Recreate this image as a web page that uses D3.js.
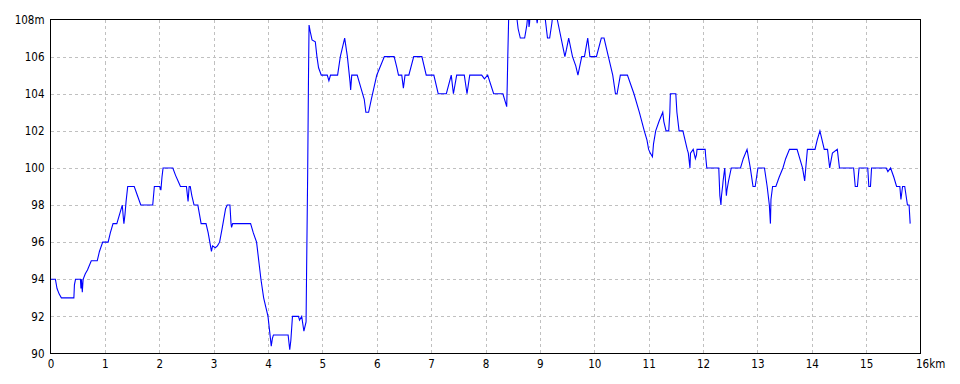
<!DOCTYPE html>
<html>
<head>
<meta charset="utf-8">
<script src="https://cdn.jsdelivr.net/npm/d3@7/dist/d3.min.js"></script>
<style>
html,body{margin:0;padding:0;background:#fff;}
svg{display:block;}
text{font-family:"DejaVu Sans","Liberation Sans",sans-serif;font-stretch:condensed;font-size:11.5px;fill:#000;}
</style>
</head>
<body>
<svg id="chart" width="960" height="384"></svg>
<script>
// distance along route (km)
const distKm = [
0.00,0.09,0.12,0.16,0.20,0.43,0.44,0.46,0.55,0.56,0.57,0.585,0.60,0.64,0.68,0.75,0.86,0.90,0.96,1.06,
1.10,1.15,1.22,1.27,1.32,1.34,1.35,1.37,1.39,1.42,1.54,1.60,1.66,1.88,1.91,2.01,2.03,2.05,2.07,2.25,
2.30,2.36,2.39,2.50,2.53,2.55,2.57,2.60,2.64,2.71,2.74,2.77,2.86,2.90,2.96,2.98,3.03,3.07,3.11,3.16,
3.22,3.25,3.30,3.32,3.33,3.35,3.68,3.73,3.79,3.83,3.87,3.92,3.96,4.00,4.06,4.08,4.10,4.37,4.40,4.42,
4.45,4.56,4.58,4.62,4.66,4.70,4.71,4.73,4.745,4.755,4.78,4.81,4.87,4.90,4.93,4.98,5.09,5.12,5.15,5.28,
5.33,5.41,5.46,5.51,5.52,5.54,5.64,5.73,5.77,5.80,5.85,5.90,6.00,6.14,6.32,6.37,6.40,6.46,6.49,6.52,
6.59,6.68,6.83,6.91,7.05,7.13,7.28,7.37,7.41,7.47,7.61,7.66,7.71,7.93,7.98,8.04,8.15,8.32,8.39,8.40,
8.41,8.43,8.56,8.58,8.60,8.64,8.72,8.76,8.78,8.79,8.80,8.81,8.82,8.93,8.95,8.97,9.09,9.10,9.14,9.18,
9.22,9.24,9.31,9.32,9.46,9.49,9.53,9.60,9.66,9.70,9.77,9.82,9.88,9.92,10.04,10.13,10.18,10.26,10.34,10.39,
10.42,10.48,10.61,10.73,10.83,10.92,10.97,11.00,11.03,11.07,11.09,11.13,11.19,11.26,11.28,11.32,11.37,11.39,11.40,11.50,
11.52,11.56,11.63,11.71,11.73,11.76,11.77,11.82,11.86,11.88,11.89,12.04,12.05,12.07,12.29,12.31,12.33,12.34,12.36,12.37,
12.40,12.43,12.44,12.47,12.52,12.69,12.74,12.81,12.84,12.87,12.92,12.96,13.01,13.13,13.18,13.22,13.24,13.25,13.28,13.34,
13.40,13.47,13.52,13.59,13.73,13.83,13.87,13.89,13.92,14.06,14.10,14.15,14.19,14.23,14.29,14.33,14.38,14.47,14.51,14.77,
14.80,14.84,14.87,15.03,15.05,15.08,15.10,15.37,15.40,15.45,15.51,15.56,15.62,15.64,15.67,15.71,15.76,15.79,15.81
];
// elevation (m)
const elevM = [
94,94,93.5,93.2,93,93,93.7,94,94,93.5,94,93.3,94,94.3,94.5,95,95,95.5,96,96,
96.5,97,97,97.5,98,97.3,97,97.5,98.2,99,99,98.5,98,98,99,99,98.8,99.5,100,100,
99.6,99.2,99,99,98.2,99,99,98.5,98,98,97.5,97,97,96.5,95.5,95.8,95.7,95.8,96,96.8,
97.8,98,98,97,96.8,97,97,96.5,96,95,94,93,92.5,92,90.4,90.8,91,91,90.2,90.7,
92,92,91.8,92,91.2,91.7,94.5,99.8,105,107.7,107.3,106.9,106.8,106.0,105.4,105,105,104.7,105,105,
106,107,106,104.6,104.2,105,105,104.1,103.7,103,103,103.7,105,106,106,105.4,105,105,104.3,105,
105,106,106,105,105,104,104,105,104,105,105,104,105,105,104.8,105,104,104,103.3,104.5,
106,108.6,108.6,108,107.5,107,107,107.7,108.3,108.2,107.6,107.8,108.3,108.3,107.8,108.3,108.3,108,107,107,
107.8,108.3,108.3,108,106,106.4,107,106,105.5,105,106,106,107,106,106,107,107,106,105,104,
104,105,105,104,103,102,101.5,101,100.8,100.6,101.3,102,102.5,103,102.5,102,102,103,104,104,
103,102,102,101,100.8,100,100.8,101,100.5,100.7,101,101,100.6,100,100,98.5,98,98.5,99,99.3,
100,98.5,98.8,99.3,100,100,100.5,101,100.5,100,99,99,100,100,99,98,97,98.3,99,99,
99.5,100,100.5,101,101,100,99.3,100,101,101,101.5,102,101.5,101,101,100,100.8,101,100,100,
99,99,100,100,99,99,100,100,99.8,100,99.5,99,99,98.3,99,99,98,98,97
];
const xTicks = [0,1,2,3,4,5,6,7,8,9,10,11,12,13,14,15,16];
const xTickLabels = ["0","1","2","3","4","5","6","7","8","9","10","11","12","13","14","15","16km"];
const yTicks = [90,92,94,96,98,100,102,104,106,108];
const yTickLabels = ["90","92","94","96","98","100","102","104","106","108m"];

const svg = d3.select("#chart");
const L = 50.5, R = 920.5, T = 19.5, B = 353.5;
const x = d3.scaleLinear().domain([0,16]).range([L,R]);
const y = d3.scaleLinear().domain([90,108]).range([B,T]);

// grid
const grid = svg.append("g");
grid.selectAll("line.v").data(xTicks.slice(1,-1)).join("line")
  .attr("x1",d=>Math.round(x(d))+0.5).attr("x2",d=>Math.round(x(d))+0.5)
  .attr("y1",T).attr("y2",B)
  .attr("stroke","#c0c0c0").attr("stroke-dasharray","3,3").attr("shape-rendering","crispEdges");
grid.selectAll("line.h").data(yTicks.slice(1,-1)).join("line")
  .attr("y1",d=>Math.round(y(d))+0.5).attr("y2",d=>Math.round(y(d))+0.5)
  .attr("x1",L).attr("x2",R)
  .attr("stroke","#c0c0c0").attr("stroke-dasharray","3,3").attr("shape-rendering","crispEdges");

// clip
svg.append("clipPath").attr("id","clip").append("rect")
  .attr("x",L).attr("y",T).attr("width",R-L).attr("height",B-T);

const data = distKm.map((d,i)=>[d,elevM[i]]);
svg.append("path").datum(data)
  .attr("clip-path","url(#clip)")
  .attr("fill","none").attr("stroke","#0000ff").attr("stroke-width",1.1)
  .attr("d",d3.line().x(d=>x(d[0])).y(d=>y(d[1])));

// frame
svg.append("rect").attr("x",L).attr("y",T).attr("width",R-L).attr("height",B-T)
  .attr("fill","none").attr("stroke","#000").attr("stroke-width",1).attr("shape-rendering","crispEdges");

// axes labels
const xAxis = d3.axisBottom(x).tickValues(xTicks).tickSize(0).tickPadding(6)
  .tickFormat((d,i)=>xTickLabels[i]);
const gx = svg.append("g").attr("transform",`translate(0,${B})`).call(xAxis);
gx.select(".domain").remove();
gx.attr("font-family",null).attr("font-size",null);
gx.selectAll(".tick").filter((d,i)=>i===xTicks.length-1).select("text").attr("text-anchor","start").attr("dx","-5");

const yAxis = d3.axisLeft(y).tickValues(yTicks).tickSize(0).tickPadding(6)
  .tickFormat((d,i)=>yTickLabels[i]);
const gy = svg.append("g").attr("transform",`translate(${L},0)`).call(yAxis);
gy.select(".domain").remove();
gy.attr("font-family",null).attr("font-size",null);
svg.selectAll(".tick text").attr("fill","#000");
</script>
</body>
</html>
